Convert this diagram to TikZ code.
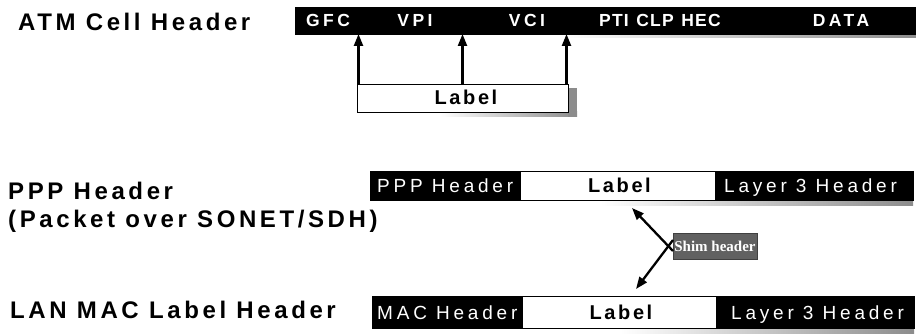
\documentclass[tikz,border=0pt]{standalone}
\usepackage{fontspec}
\setmainfont{Liberation Sans}
\newfontfamily\lblfont[LetterSpace=15]{Liberation Sans}
\newfontfamily\labfont[LetterSpace=13]{Liberation Sans}
\newfontfamily\barfont[LetterSpace=7]{Liberation Sans}
\newfontfamily\barwfont[LetterSpace=20]{Liberation Sans}
\newfontfamily\segfont[LetterSpace=20]{Liberation Sans}
\newfontfamily\shimfont{Liberation Serif}
\usetikzlibrary{arrows.meta}
\tikzset{
  title/.style={anchor=base west, inner sep=0pt, font=\lblfont\bfseries\fontsize{24}{28}\selectfont},
  blackseg/.style={fill=black, draw=black, line width=0.8pt, inner sep=0pt, outer sep=0pt, anchor=north west},
  whiteseg/.style={fill=white, draw=black, line width=0.8pt, inner sep=0pt, outer sep=0pt, anchor=north west},
  bartxt/.style={anchor=base, inner sep=0pt, text=white, font=\barfont\bfseries\fontsize{17.5}{20}\selectfont},
  barwtxt/.style={anchor=base, inner sep=0pt, text=white, font=\barwfont\bfseries\fontsize{17.5}{20}\selectfont},
  segtxt/.style={anchor=base west, inner sep=0pt, text=white, font=\segfont\fontsize{19}{22}\selectfont},
  labtxt/.style={anchor=base, inner sep=0pt, text=black, font=\labfont\bfseries\fontsize{20}{23}\selectfont},
  arr/.style={line width=2.3pt, -{Triangle[length=12pt,width=9pt]}},
  shadow/.style={left color=white, right color=black!45}
}
\begin{document}
\begin{tikzpicture}[x=1pt,y=-1pt]
\useasboundingbox[fill=white] (0,0) rectangle (916,334);

% ---- left titles
\node[title] (t1) at (18,31) {ATM Cell Header};
\node[title] (t2) at (8,200) {PPP Header};
\node[title] (t3) at (8,227) {(Packet over SONET/SDH)};
\node[title] (t4) at (10,318) {LAN MAC Label Header};

% ---- ATM cell header
\shade[shadow] (560,34) rectangle (916,38);
\node[blackseg, minimum width=621pt, minimum height=27pt] (atm) at (295,7) {};
\node[barwtxt] (gfc) at (328,27) {GFC};
\node[barwtxt] (vpi) at (415,27) {VPI};
\node[barwtxt] (vci) at (527,27) {VCI};
\node[bartxt] (pti) at (614,27) {PTI};
\node[bartxt] (clp) at (655,27) {CLP};
\node[bartxt] (hec) at (701,27) {HEC};
\node[barwtxt] (data) at (841,27) {DATA};

\shade[shadow] (440,112) rectangle (577,117);
\fill[black!45] (568,88) rectangle (577,117);
\node[whiteseg, minimum width=211pt, minimum height=28pt] (alab) at (357,84) {};
\node[labtxt] (alabt) at (466,105) {Label};
\draw[arr] ([xshift=1.5pt]alab.north west) -- ([xshift=1.5pt]alab.north west |- atm.south);
\draw[arr] (alab.north) -- (alab.north |- atm.south);
\draw[arr] ([xshift=-1.5pt]alab.north east) -- ([xshift=-1.5pt]alab.north east |- atm.south);

% ---- PPP header
\shade[shadow] (600,200) rectangle (913,205);
\node[blackseg, minimum width=150pt, minimum height=29pt] (p1) at (370,171) {};
\node[whiteseg, minimum width=195pt, minimum height=29pt] (p2) at (520,171) {};
\node[blackseg, minimum width=198pt, minimum height=29pt] (p3) at (715,171) {};
\node[segtxt] (p1t) at (377,193) {PPP Header};
\node[labtxt] (p2t) at ([xshift=2pt]p2.center |- 0,193) {Label};
\node[segtxt] (p3t) at (724,193) {Layer 3 Header};

% ---- LAN MAC header
\shade[shadow] (620,328) rectangle (914,333);
\node[blackseg, minimum width=150pt, minimum height=32pt] (m1) at (372,296) {};
\node[whiteseg, minimum width=194pt, minimum height=32pt] (m2) at (522,296) {};
\node[blackseg, minimum width=198pt, minimum height=32pt] (m3) at (716,296) {};
\node[segtxt] (m1t) at (377,319) {MAC Header};
\node[labtxt] (m2t) at ([xshift=2pt]m2.center |- 0,319) {Label};
\node[segtxt] (m3t) at (731,319) {Layer 3 Header};

% ---- Shim header
\node[fill=black!62, draw=black!75, line width=0.6pt, inner sep=0pt, outer sep=0pt,
      minimum width=84pt, minimum height=26pt, anchor=north west,
      text=white, font=\shimfont\bfseries\fontsize{15}{17}\selectfont] (shim) at (673,233) {Shim header};
\coordinate (tipup) at (632,208);
\coordinate (tipdn) at (636,289);
\draw[arr] ([yshift=-5pt]shim.west) -- (tipup);
\draw[arr] ([yshift=6pt]shim.west) -- (tipdn);
\end{tikzpicture}
\end{document}
